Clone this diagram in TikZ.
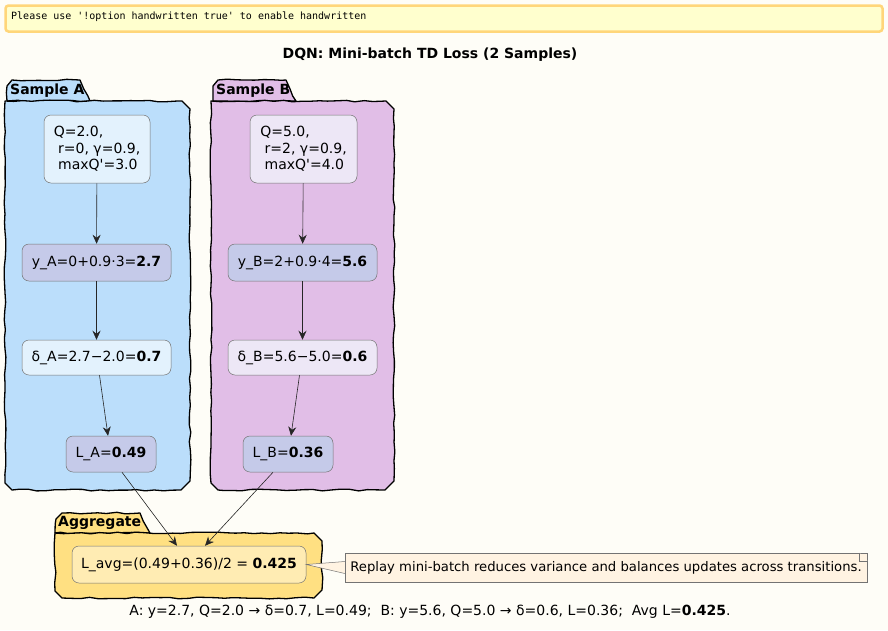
\documentclass[tikz,border=0pt]{standalone}
\usepackage{fontspec}
\setmainfont{DejaVu Sans}
\setmonofont{DejaVu Sans Mono}
\usepackage{tikz}
\usetikzlibrary{arrows.meta,positioning,calc,decorations.pathmorphing}
\definecolor{cPaper}  {RGB}{254,253,247}
\definecolor{cWarnBg} {RGB}{255,255,206}
\definecolor{cWarnBd} {RGB}{255,214,122}
\definecolor{cSampA}  {RGB}{187,222,251}
\definecolor{cSampB}  {RGB}{225,190,231}
\definecolor{cLightA} {RGB}{227,242,253}
\definecolor{cLightB} {RGB}{237,231,246}
\definecolor{cMid}    {RGB}{197,202,233}
\definecolor{cAgg}    {RGB}{255,224,130}
\definecolor{cAggIn}  {RGB}{255,236,179}
\definecolor{cNote}   {RGB}{255,243,226}

\begin{document}
\begin{tikzpicture}[
  x=1pt,y=-1pt,
  font=\fontsize{14}{16.5}\selectfont,
  wobble/.style={decorate,decoration={random steps,segment length=9pt,amplitude=0.9pt}},
  pkg/.style={wobble,draw=black,line width=1.3pt,line join=round},
  pkgname/.style={anchor=west,font=\fontsize{14}{16}\selectfont\bfseries,inner sep=0pt},
  calc/.style={draw=black!55,line width=0.5pt,rounded corners=7pt,inner sep=0pt,
               minimum height=36pt},
  flow/.style={-{Stealth[length=9pt,width=8pt,inset=3pt]},line width=0.6pt,black!85},
]
\useasboundingbox[fill=cPaper] (0,0) rectangle (888,630);
% warning banner and title
\node[draw=cWarnBd,line width=2.5pt,fill=cWarnBg,rounded corners=3pt,
      minimum width=877pt,minimum height=26pt,inner sep=0pt] (warn) at (444,18.5) {};
\node[anchor=west,font=\fontsize{10}{12}\selectfont\ttfamily,inner sep=0pt]
  (warntxt) at (11,17) {Please use '!option handwritten true' to enable handwritten};
\node[font=\fontsize{14}{16}\selectfont\bfseries] (title) at (430,55)
  {DQN: Mini-batch TD Loss (2 Samples)};
% Sample A
\draw[pkg,fill=cSampA] (7,101) -- (7,86) -- (12,80) -- (80,80) -- (90,101) -- cycle;
\draw[pkg,fill=cSampA] (5,101) -- (182,101) -- (190,109) -- (190,481) -- (181,490)
  -- (12,490) -- (5,483) -- cycle;
\node[pkgname] (pkgA) at (10,91) {Sample A};
% Sample B
\draw[pkg,fill=cSampB] (213,101) -- (213,86) -- (218,80) -- (286,80) -- (296,101) -- cycle;
\draw[pkg,fill=cSampB] (211,101) -- (386,101) -- (394,109) -- (394,481) -- (385,490)
  -- (218,490) -- (211,483) -- cycle;
\node[pkgname] (pkgB) at (216,91) {Sample B};
% Aggregate
\draw[pkg,fill=cAgg] (55,533) -- (56,519) -- (62,513) -- (140,513) -- (150,533) -- cycle;
\draw[pkg,fill=cAgg] (55,533) -- (314,533) -- (322,541) -- (322,590) -- (314,598)
  -- (62,598) -- (55,591) -- cycle;
\node[pkgname] (pkgG) at (58,523) {Aggregate};
% sample A chain
\node[calc,fill=cLightA,minimum width=106pt,minimum height=68pt,align=left] (qa) at (97,149)
  {Q=2.0,\\\ r=0, γ=0.9,\\\ maxQ\textquotesingle=3.0};
\node[calc,fill=cMid,minimum width=149pt,minimum height=37pt] (ya) at (96.5,262.5)
  {y\_A=0+0.9·3=\textbf{2.7}};
\node[calc,fill=cLightA,minimum width=149pt,minimum height=35pt] (da) at (96.5,357.5)
  {δ\_A=2.7−2.0=\textbf{0.7}};
\node[calc,fill=cMid,minimum width=90pt] (la) at (111,454) {L\_A=\textbf{0.49}};
\draw[flow] (qa) -- (ya);
\draw[flow] (ya) -- (da);
\draw[flow] ([xshift=3pt]da.south) -- ([xshift=-3pt]la.north);
% sample B chain
\node[calc,fill=cLightB,minimum width=107pt,minimum height=68pt,align=left] (qb) at (303.5,149)
  {Q=5.0,\\\ r=2, γ=0.9,\\\ maxQ\textquotesingle=4.0};
\node[calc,fill=cMid,minimum width=149pt,minimum height=37pt] (yb) at (302.5,262.5)
  {y\_B=2+0.9·4=\textbf{5.6}};
\node[calc,fill=cLightB,minimum width=149pt,minimum height=35pt] (db) at (302.5,357.5)
  {δ\_B=5.6−5.0=\textbf{0.6}};
\node[calc,fill=cMid,minimum width=90pt] (lb) at (288,454) {L\_B=\textbf{0.36}};
\draw[flow] (qb) -- (yb);
\draw[flow] (yb) -- (db);
\draw[flow] ([xshift=-3pt]db.south) -- ([xshift=3pt]lb.north);
% average
\node[calc,fill=cAggIn,minimum width=234pt,minimum height=37pt] (agg) at (189,564.5)
  {L\_avg=(0.49+0.36)/2 = \textbf{0.425}};
\draw[flow] ([xshift=11pt]la.south) -- ([xshift=-12pt]agg.north);
\draw[flow] ([xshift=-15pt]lb.south) -- ([xshift=16pt]agg.north);
% note
\node[draw=black!55,line width=0.5pt,fill=cNote,minimum width=522pt,minimum height=29pt,
      inner sep=0pt,font=\fontsize{13.2}{15}\selectfont] (tip) at (606,567.5)
  {Replay mini-batch reduces variance and balances updates across transitions.};
\draw[draw=black!55,line width=0.5pt,fill=cNote] ([yshift=6pt]tip.west) -- (agg.east)
  -- ([yshift=-6pt]tip.west);
\draw[draw=black!55,line width=0.5pt,fill=cNote] ([xshift=-8pt]tip.north east)
  -- ++(0,8) -- ++(8,0);
% caption
\node (caption) at (430,612)
  {A: y=2.7, Q=2.0 → δ=0.7, L=0.49;\ \ B: y=5.6, Q=5.0 → δ=0.6, L=0.36;\ \ Avg L=\textbf{0.425}.};
\end{tikzpicture}
\end{document}
